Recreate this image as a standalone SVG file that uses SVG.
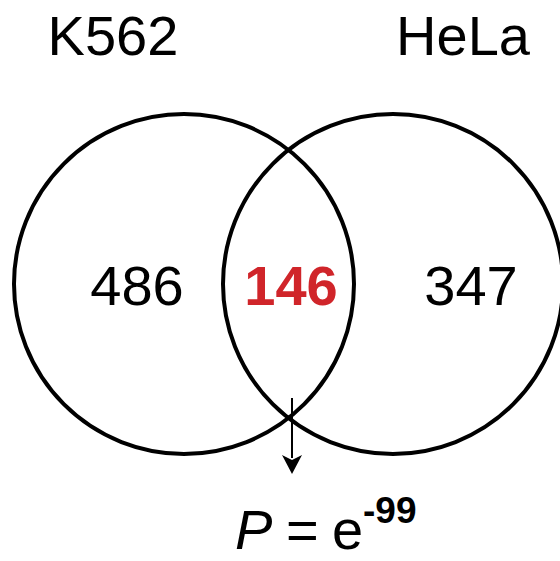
<svg xmlns="http://www.w3.org/2000/svg" width="560" height="561" viewBox="0 0 560 561">
  <style>
    .set { fill: none; stroke: #000; stroke-width: 4; }
    .lbl { font-family: "Liberation Sans", Arial, sans-serif; font-size: 56px; fill: #000; text-anchor: middle; }
    .num { font-family: "Liberation Sans", Arial, sans-serif; font-size: 56px; fill: #000; text-anchor: middle; }
    .shared { font-weight: bold; fill: #d0252a; }
    .conn { stroke: #000; stroke-width: 2; fill: none; }
    .eq { font-family: "Liberation Sans", Arial, sans-serif; font-size: 56px; fill: #000; }
  </style>
  <rect width="560" height="561" fill="#fff"/>

  <!-- left set -->
  <g id="k562">
    <circle class="set" cx="184" cy="284" r="170"/>
    <text class="lbl" x="113" y="55">K562</text>
    <text class="num" x="137" y="305">486</text>
  </g>

  <!-- right set -->
  <g id="hela">
    <circle class="set" cx="393" cy="284" r="170"/>
    <text class="lbl" x="463" y="55">HeLa</text>
    <text class="num" x="471" y="305">347</text>
  </g>

  <!-- intersection count -->
  <g id="overlap">
    <text class="num shared" x="291" y="305">146</text>
  </g>

  <!-- pointer from the lower crossing to the p-value -->
  <g id="connectors">
    <line class="conn" x1="292" y1="398" x2="292" y2="458"/>
    <path d="M292 474 L282 455 L292 460 L302 455 Z" fill="#000"/>
  </g>

  <g id="pvalue">
    <text class="eq" y="549"><tspan x="235" font-style="italic">P</tspan><tspan x="286">=</tspan><tspan x="332">e</tspan><tspan x="363" y="523" font-size="37" font-weight="bold">-99</tspan></text>
  </g>
</svg>
